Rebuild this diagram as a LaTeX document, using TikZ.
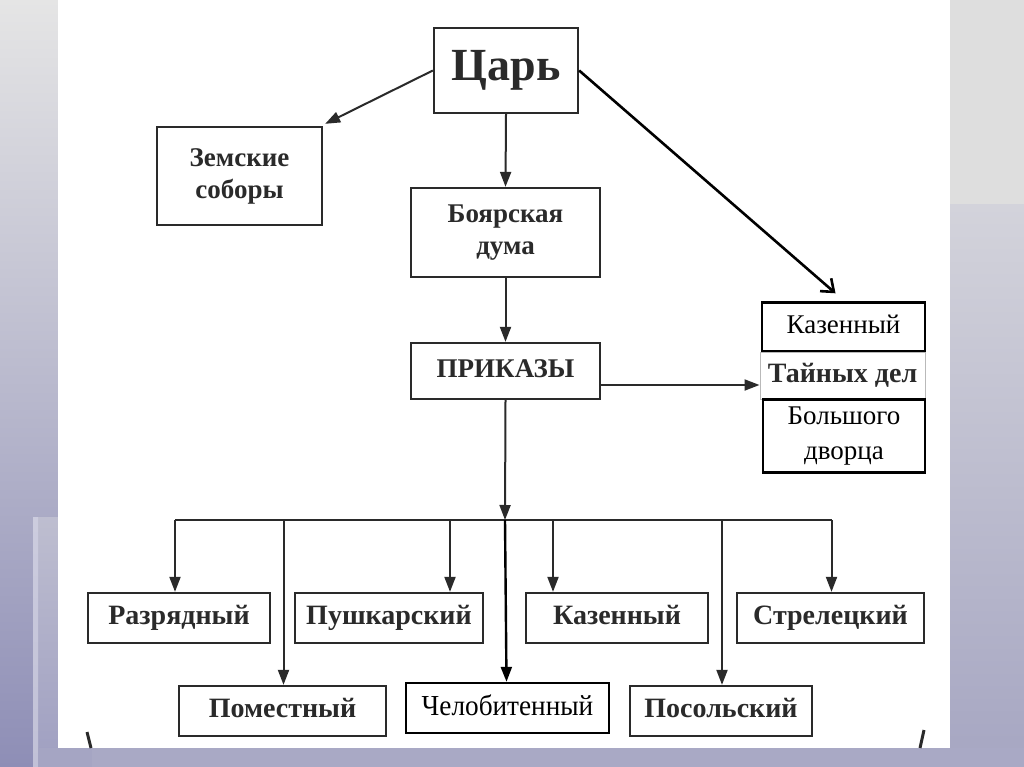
\documentclass[tikz,border=0pt]{standalone}
\usepackage{fontspec}
\setmainfont{Liberation Serif}
\usetikzlibrary{arrows.meta}
\definecolor{bgtop}{HTML}{E5E5E5}
\definecolor{bgbot}{HTML}{8E8EB6}
\definecolor{rtop}{HTML}{D3D3DB}
\definecolor{rbot}{HTML}{A6A6C2}
\definecolor{strip}{HTML}{A9A9C5}
\definecolor{ink}{HTML}{2A2A2A}
\tikzset{
  oldbox/.style={draw=ink, line width=2.3pt, inner sep=0pt,
    font=\bfseries\fontsize{28}{32}\selectfont, text=ink},
  two/.style={align=center, font=\bfseries\fontsize{27}{32}\selectfont},
  one/.style={text height=19pt, text depth=6pt},
  newbox/.style={draw=black, line width=2.4pt, inner sep=0pt,
    font=\fontsize{27}{35}\selectfont},
  arr/.style={draw=ink, line width=2pt, -{Triangle[length=15pt,width=11pt]}},
  vline/.style={draw=ink, line width=2pt},
}
\begin{document}
\begin{tikzpicture}[x=1pt,y=-1pt]
\useasboundingbox (0,0) rectangle (1024,767);
% background
\shade[top color=bgtop, bottom color=bgbot] (0,0) rectangle (1024,767);
\shade[top color=bgtop!55!bgbot, bottom color=bgbot!85!white] (38,517) rectangle (58,767);
\shade[top color=white!55!bgbot, bottom color=white!45!bgbot] (33,517) rectangle (38,767);
\fill[bgtop!97!black] (950,0) rectangle (1024,205);
\shade[top color=rtop, bottom color=rbot] (950,205) rectangle (1024,767);
\fill[strip] (92,748) rectangle (1024,767);
\fill[strip!85!bgbot] (38,748) rectangle (92,767);
\fill[white] (58,0) rectangle (950,748);
% nodes
\node[oldbox, text height=31pt, text depth=10pt, minimum width=144, minimum height=85, font=\bfseries\fontsize{46}{50}\selectfont] (tsar) at (506,70.5) {Царь};
\node[oldbox, two, minimum width=165, minimum height=98] (zem) at (239.5,176) {Земские\\соборы};
\node[oldbox, two, minimum width=189, minimum height=89] (duma) at (505.5,232.5) {Боярская\\дума};
\node[oldbox, one, minimum width=189, minimum height=56, font=\bfseries\fontsize{27}{32}\selectfont] (prik) at (505.5,371) {ПРИКАЗЫ};
\node[newbox, one, minimum width=163, minimum height=49] (kaz1) at (843.5,327) {Казенный};
\node[oldbox, one, draw=gray!55, line width=1pt, minimum width=165, minimum height=47] (tain) at (842.5,376) {Тайных дел};
\node[newbox, align=center, minimum width=162, minimum height=73] (bolsh) at (844,436) {Большого\\дворца};
\node[oldbox, one, minimum width=182, minimum height=50] (razr) at (179,618) {Разрядный};
\node[oldbox, one, minimum width=188, minimum height=50] (push) at (389,618) {Пушкарский};
\node[oldbox, one, minimum width=182, minimum height=50] (kaz2) at (617,618) {Казенный};
\node[oldbox, one, minimum width=187, minimum height=50] (strel) at (830.5,618) {Стрелецкий};
\node[oldbox, one, minimum width=207, minimum height=50] (pomest) at (282.5,711) {Поместный};
\node[newbox, text height=20pt, text depth=6pt, minimum width=203, minimum height=50, font=\fontsize{29}{34}\selectfont\addfontfeatures{FakeStretch=0.94}] (chel) at (507.5,708) {Челобитенный};
\node[oldbox, one, minimum width=182, minimum height=50] (posol) at (721,711) {Посольский};
% connectors
\coordinate (hub) at (505,520);
\draw[arr] (tsar.west) -- ([xshift=2pt,yshift=2pt]zem.north east);
\draw[arr] (tsar.south) -- (duma.north);
\draw[arr] (duma.south) -- (prik.north);
\draw[black, line width=2.6pt, -{Straight Barb[length=11pt,width=17pt,line width=2.6pt]}] (tsar.east) -- ([xshift=-8pt,yshift=8pt]kaz1.north);
\draw[arr] ([yshift=-14pt]prik.east) -- ([yshift=-14pt]prik.east -| tain.west);
\draw[arr] (prik.south) -- (hub);
\draw[vline] ([xshift=-4pt]razr.north |- hub) -- ([xshift=1pt]strel.north |- hub);
\draw[arr] ([xshift=-4pt]razr.north |- hub) -- ([xshift=-4pt]razr.north);
\draw[arr] ([xshift=61pt]push.north |- hub) -- ([xshift=61pt]push.north);
\draw[arr] ([xshift=-64pt]kaz2.north |- hub) -- ([xshift=-64pt]kaz2.north);
\draw[arr] ([xshift=1pt]strel.north |- hub) -- ([xshift=1pt]strel.north);
\draw[arr] ([xshift=1pt]pomest.north |- hub) -- ([xshift=1pt]pomest.north);
\draw[arr] ([xshift=1pt]posol.north |- hub) -- ([xshift=1pt]posol.north);
\draw[black, line width=2.4pt, -{Triangle[length=15pt,width=11pt]}] (hub) -- ([xshift=-1pt]chel.north);
% bracket remnants
\draw[ink, line width=3pt] (87,732) -- (91,748);
\draw[ink, line width=3pt] (924,730) -- (920,748);
\end{tikzpicture}
\end{document}
